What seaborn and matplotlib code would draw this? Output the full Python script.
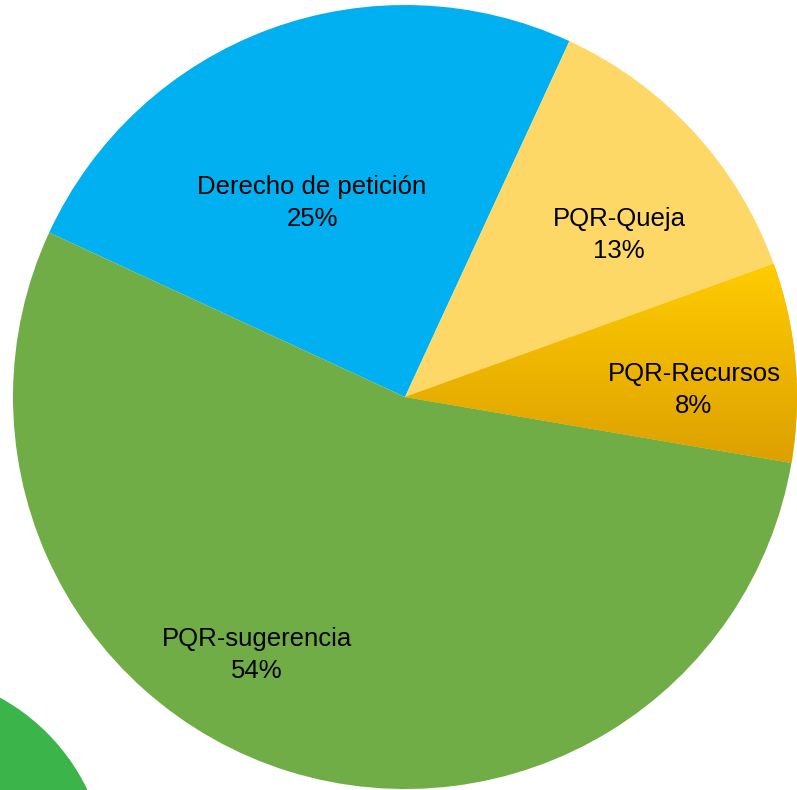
import numpy as np
import seaborn as sns
import matplotlib
matplotlib.use("Agg")
import matplotlib.pyplot as plt
from matplotlib.patches import Circle
from matplotlib.colors import LinearSegmentedColormap

# data
categories = ["Derecho de petición", "PQR-Queja", "PQR-Recursos", "PQR-sugerencia"]
shares = [25.0, 12.6, 8.2, 54.2]
colors = ["#00B0F0", "#FDD867", "#F2BA00", "#70AD47"]
# label anchor points (pie radius = 1)
label_x = [-0.237, 0.546, 0.737, -0.378]
label_y = [0.495, 0.413, 0.018, -0.658]

sns.set_theme(style="white")
plt.rcParams["font.family"] = ["Liberation Sans", "DejaVu Sans"]

fig = plt.figure(figsize=(7.97, 7.90), dpi=100)
ax = fig.add_axes([13 / 797, 1 / 790, 784 / 797, 784 / 790])

wedges, _ = ax.pie(shares, colors=colors, startangle=155.2, counterclock=False,
                   radius=1, wedgeprops=dict(linewidth=0))

# gradient fill on the "Recursos" slice
w = wedges[2]
bb = w.get_path().get_extents()
cmap = LinearSegmentedColormap.from_list("gold", ["#DDA000", "#FFCC00"])
grad = np.linspace(0, 1, 256).reshape(-1, 1)
im = ax.imshow(grad, cmap=cmap, origin="lower", aspect="auto",
               extent=[bb.x0, bb.x1, bb.y0, bb.y1], zorder=w.get_zorder() + 0.1)
im.set_clip_path(w)

for name, val, x, y in zip(categories, shares, label_x, label_y):
    ax.text(x, y, f"{name}\n{val:.0f}%", ha="center", va="center",
            fontsize=18.5, color="black", linespacing=1.45, zorder=5)

ax.set_xlim(-1, 1)
ax.set_ylim(-1, 1)
ax.set_aspect("equal")
ax.axis("off")

# decorative green circle in the lower-left corner
fig.add_artist(Circle((-1.0, -0.9), 2.08, transform=fig.dpi_scale_trans,
                      color="#3BB54A", lw=0, zorder=0))

fig.savefig("out.png", dpi=100)
